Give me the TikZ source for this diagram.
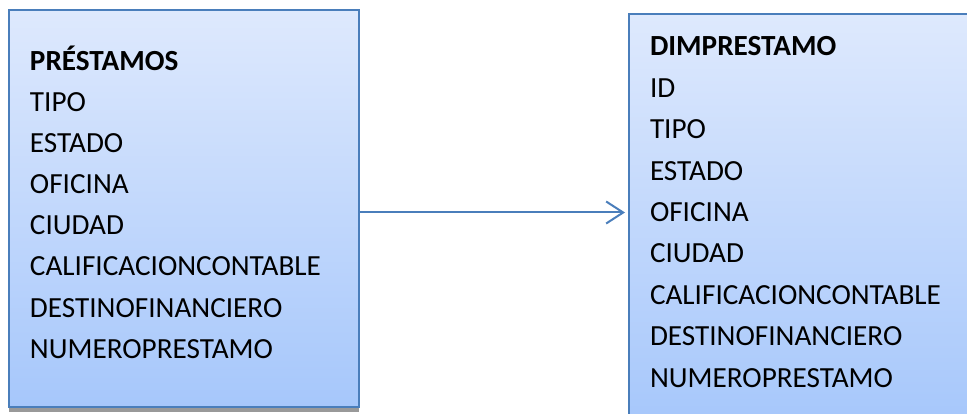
\documentclass[tikz,border=0pt]{standalone}
\usepackage{fontspec}
\setmainfont{Carlito}
\usetikzlibrary{arrows.meta,shadows}
\definecolor{borde}{RGB}{74,126,187}
\definecolor{arriba}{RGB}{222,233,253}
\definecolor{abajo}{RGB}{166,199,251}

\begin{document}
\begin{tikzpicture}[x=1pt,y=1pt,>={Straight Barb[length=17pt,width=22pt]},
                    line width=2pt]
  \tikzstyle{tabla}=[rectangle, draw=borde, top color=arriba,
    bottom color=abajo, anchor=north west, inner sep=0pt]
  \tikzstyle{titulo}=[anchor=base west, inner sep=0pt,
    font=\fontsize{29.2}{34}\selectfont\bfseries]
  \tikzstyle{campo}=[anchor=base west, inner sep=0pt,
    font=\fontsize{29.2}{34}\selectfont]
  \useasboundingbox (0,0) rectangle (967,-414);
  \node[tabla, minimum width=350, minimum height=397,
    general shadow={fill=black!40, shadow yshift=-5pt}] (prest) at (8,-9) {};
  \node[tabla, minimum width=350, minimum height=410] (dimp) at (628,-13) {};
  \node[titulo] (prest0) at (29,-71) {PRÉSTAMOS};
  \foreach \campo [count=\i] in {TIPO,ESTADO,OFICINA,CIUDAD,
      CALIFICACIONCONTABLE,DESTINOFINANCIERO,NUMEROPRESTAMO}
    \node[campo] (prest\i) at (29,{-70-41.2*\i}) {\campo};
  \node[titulo] (dimp0) at (649,-56) {DIMPRESTAMO};
  \foreach \campo [count=\i] in {ID,TIPO,ESTADO,OFICINA,CIUDAD,
      CALIFICACIONCONTABLE,DESTINOFINANCIERO,NUMEROPRESTAMO}
    \node[campo] (dimp\i) at (649,{-56-41.4*\i}) {\campo};
  \coordinate (salida) at ([yshift=-4pt]prest.east);
  \draw[->, borde, shorten >=3pt] (salida) -- (salida -| dimp.west);
\end{tikzpicture}
\end{document}
